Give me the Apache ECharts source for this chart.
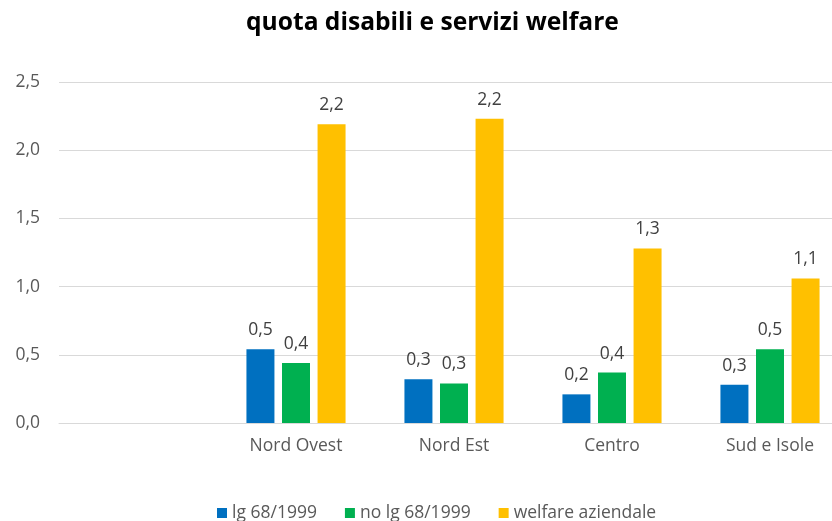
<!DOCTYPE html>
<html>
<head>
<meta charset="utf-8">
<script src="https://cdn.jsdelivr.net/npm/echarts@6/dist/echarts.min.js"></script>
<style>
  html, body { margin: 0; padding: 0; background: #fff; }
  #chart { width: 832px; height: 521px; }
</style>
</head>
<body>
<div id="chart"></div>
<script>
// dati
var categories = ["", "Nord Ovest", "Nord Est", "Centro", "Sud e Isole"];
var seriesNames = ["lg 68/1999", "no lg 68/1999", "welfare aziendale"];
var lg68 = [null, 0.54, 0.32, 0.21, 0.28];
var noLg68 = [null, 0.44, 0.29, 0.37, 0.54];
var welfare = [null, 2.19, 2.23, 1.28, 1.06];
var colors = ["#0070C0", "#00B050", "#FFC000"];

var font = "'Open Sans', 'Liberation Sans', sans-serif";

function fmt(v) {
  return v.toFixed(1).replace(".", ",");
}

function makeSeries(name, data, color) {
  return {
    name: name,
    type: "bar",
    data: data,
    barWidth: 28,
    barGap: "27%",
    itemStyle: { color: color },
    label: {
      show: true,
      position: "top",
      distance: 10,
      color: "#404040",
      fontSize: 17.5,
      fontFamily: font,
      formatter: function (p) { return fmt(p.value); }
    }
  };
}

var myChart = echarts.init(document.getElementById("chart"));
myChart.setOption({
  animation: false,
  title: {
    text: "quota disabili e servizi welfare",
    left: 241,
    top: 5,
    textStyle: { fontSize: 24.6, fontWeight: "bold", color: "#000", fontFamily: font }
  },
  legend: {
    data: seriesNames,
    left: 212,
    bottom: -6,
    itemWidth: 10,
    itemHeight: 10,
    itemGap: 28,
    icon: "rect",
    textStyle: { fontSize: 17.5, color: "#595959", fontFamily: font }
  },
  grid: { left: 59, right: -17, top: 82, bottom: 98, outerBoundsMode: "none", containLabel: false },
  xAxis: {
    type: "category",
    data: categories,
    axisLine: { lineStyle: { color: "#d9d9d9", width: 1 } },
    axisTick: { show: false },
    axisLabel: { color: "#595959", fontSize: 17.5, fontFamily: font, margin: 14 }
  },
  yAxis: {
    type: "value",
    min: 0,
    max: 2.5,
    interval: 0.5,
    axisLine: { show: false },
    axisTick: { show: false },
    splitLine: { lineStyle: { color: "#d9d9d9", width: 1 } },
    axisLabel: { color: "#595959", fontSize: 17.5, fontFamily: font, margin: 19, formatter: function (v) { return fmt(v); } }
  },
  series: [
    makeSeries(seriesNames[0], lg68, colors[0]),
    makeSeries(seriesNames[1], noLg68, colors[1]),
    makeSeries(seriesNames[2], welfare, colors[2])
  ]
});
</script>
</body>
</html>
